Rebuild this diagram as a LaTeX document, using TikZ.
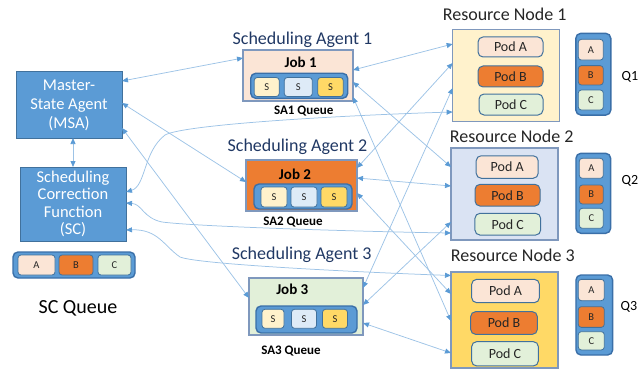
\documentclass[tikz,border=0pt]{standalone}
\usepackage{fontspec}
\setmainfont{Carlito}
\usetikzlibrary{arrows.meta}
\definecolor{msablue}{HTML}{5B9BD5}
\definecolor{msaborder}{HTML}{41719C}
\definecolor{qborder}{HTML}{3A6FA8}
\definecolor{cellborder}{HTML}{41719C}
\definecolor{peach}{HTML}{FBE5D6}
\definecolor{orangeB}{HTML}{ED7D31}
\definecolor{greenC}{HTML}{E2F0D9}
\definecolor{lightyellow}{HTML}{FFF2CC}
\definecolor{lightblueS}{HTML}{DEEBF7}
\definecolor{goldY}{HTML}{FFD966}
\definecolor{rnblue}{HTML}{DAE3F3}
\definecolor{boxframe}{HTML}{7F98BD}
\definecolor{navy}{HTML}{203864}
\definecolor{linkblue}{HTML}{9DC3E6}
\definecolor{tipblue}{HTML}{5B9BD5}
\definecolor{textdark}{HTML}{262626}
\tikzset{
  bluebox/.style={draw=msaborder, fill=msablue, line width=1pt, inner sep=0pt, outer sep=0pt,
    text=white, align=center, font=\fontsize{16.5}{19}\selectfont},
  jobbox/.style={draw=boxframe, line width=1.2pt, inner sep=0pt, outer sep=0pt},
  rnbox/.style={draw=boxframe, line width=1.2pt, inner sep=0pt, outer sep=0pt},
  qbox/.style={draw=qborder, fill=msablue, line width=1.4pt, rounded corners=5pt, inner sep=0pt, outer sep=0pt},
  cell/.style={draw=cellborder, line width=0.8pt, rounded corners=3pt, inner sep=0pt, outer sep=0pt,
    text=textdark, font=\fontsize{10.5}{12}\selectfont},
  pod/.style={draw=cellborder, line width=1pt, rounded corners=5pt, inner sep=0pt, outer sep=0pt,
    text=textdark, font=\fontsize{14}{16}\selectfont},
  satitle/.style={text=navy, inner sep=0pt, font=\fontsize{18}{20}\selectfont},
  rntitle/.style={text=textdark, inner sep=0pt, font=\fontsize{18}{20}\selectfont},
  jobname/.style={inner sep=0pt, text=black, font=\bfseries\fontsize{15}{17}\selectfont},
  qname/.style={inner sep=0pt, text=black, font=\bfseries\fontsize{13}{15}\selectfont},
  qlabel/.style={inner sep=0pt, text=black, font=\fontsize{14}{16}\selectfont},
  link/.style={draw=linkblue, line width=0.75pt, <->},
  >={Triangle[length=6pt,width=5pt,color=tipblue]}
}
\begin{document}
\begin{tikzpicture}[x=1pt,y=-1pt]
\useasboundingbox (0,0) rectangle (640,369);

% ---- left column
\node[bluebox, minimum width=106, minimum height=66] (msa) at (69,105) {Master-\\State Agent\\(MSA)};
\node[bluebox, minimum width=106, minimum height=74, font=\fontsize{16.5}{17.5}\selectfont] (sc) at (73,204) {Scheduling\\Correction\\Function\\(SC)};
\node[qbox, minimum width=122, minimum height=26] (scq) at (74,265) {};
\node[cell, fill=peach, minimum width=37, minimum height=20] (scqa) at (36.5,265) {A};
\node[cell, fill=orangeB, minimum width=34, minimum height=20] (scqb) at (76,265) {B};
\node[cell, fill=greenC, minimum width=33, minimum height=20] (scqc) at (114.5,265) {C};
\node[inner sep=0pt, font=\fontsize{20}{22}\selectfont] (scqlabel) at (78,308) {SC Queue};

% ---- Scheduling agent 1
\node[satitle] (sa1) at (302.5,40) {Scheduling Agent 1};
\node[jobbox, fill=peach, minimum width=110, minimum height=51] (job1) at (298,75.5) {};
\node[jobname] (job1t) at (300.7,62) {Job 1};
\node[qbox, minimum width=97, minimum height=25] (j1q) at (299.2,85.8) {};
\node[cell, fill=lightyellow, minimum width=25, minimum height=19] (j1s1) at (266.7,87) {S};
\node[cell, fill=lightblueS, minimum width=28, minimum height=19] (j1s2) at (298.3,87) {S};
\node[cell, fill=goldY, minimum width=25.5, minimum height=19] (j1s3) at (330.5,87) {S};
\node[qname] (sa1q) at (303.7,111) {SA1 Queue};

% ---- Scheduling agent 2
\node[satitle] (sa2) at (297.5,147) {Scheduling Agent 2};
\node[jobbox, fill=orangeB, minimum width=111, minimum height=51] (job2) at (301.5,185.5) {};
\node[jobname] (job2t) at (295,174) {Job 2};
\node[qbox, minimum width=98, minimum height=25] (j2q) at (303,196.5) {};
\node[cell, fill=lightyellow, minimum width=26, minimum height=20] (j2s1) at (274,197) {S};
\node[cell, fill=lightblueS, minimum width=26, minimum height=20] (j2s2) at (304,197) {S};
\node[cell, fill=goldY, minimum width=26, minimum height=20] (j2s3) at (334,197) {S};
\node[qname] (sa2q) at (293,222) {SA2 Queue};

% ---- Scheduling agent 3
\node[satitle] (sa3) at (301.7,255) {Scheduling Agent 3};
\node[jobbox, fill=greenC, minimum width=114, minimum height=57] (job3) at (306,306.5) {};
\node[jobname] (job3t) at (292.3,289) {Job 3};
\node[qbox, minimum width=101, minimum height=27] (j3q) at (306.5,319.5) {};
\node[cell, fill=lightyellow, minimum width=22, minimum height=19] (j3s1) at (273,318.8) {S};
\node[cell, fill=lightblueS, minimum width=25, minimum height=19] (j3s2) at (304,318.8) {S};
\node[cell, fill=goldY, minimum width=25, minimum height=19] (j3s3) at (335,318.8) {S};
\node[qname] (sa3q) at (291,351) {SA3 Queue};

% ---- Resource node 1
\node[rntitle] (rn1t) at (504.7,14) {Resource Node 1};
\node[rnbox, fill=lightyellow, minimum width=106.7, minimum height=92.3] (rn1) at (506,75.5) {};
\node[pod, fill=peach, minimum width=65, minimum height=20] (rn1a) at (510.5,47) {Pod A};
\node[pod, fill=orangeB, minimum width=65, minimum height=21] (rn1b) at (510.5,76.5) {Pod B};
\node[pod, fill=greenC, minimum width=64, minimum height=21] (rn1c) at (511,104.5) {Pod C};
\node[qbox, minimum width=35, minimum height=81.7] (q1) at (593.3,74.2) {};
\node[cell, fill=peach, minimum width=25, minimum height=20.7] (q1a) at (590.8,49.7) {A};
\node[cell, fill=orangeB, minimum width=25, minimum height=19.3] (q1b) at (590.8,75.3) {B};
\node[cell, fill=greenC, minimum width=25, minimum height=20] (q1c) at (590.8,100) {C};
\node[qlabel] (q1l) at (630,77) {Q1};

% ---- Resource node 2
\node[rntitle] (rn2t) at (511.7,136) {Resource Node 2};
\node[rnbox, fill=rnblue, minimum width=107, minimum height=92] (rn2) at (504.5,194) {};
\node[pod, fill=peach, minimum width=62, minimum height=22.5] (rn2a) at (507.2,167) {Pod A};
\node[pod, fill=orangeB, minimum width=65, minimum height=21.7] (rn2b) at (507.5,195.2) {Pod B};
\node[pod, fill=greenC, minimum width=65.7, minimum height=21.7] (rn2c) at (507.8,224.2) {Pod C};
\node[qbox, minimum width=34.7, minimum height=80] (q2) at (593.3,193.3) {};
\node[cell, fill=peach, minimum width=24, minimum height=20] (q2a) at (591.3,168.3) {A};
\node[cell, fill=orangeB, minimum width=24, minimum height=19] (q2b) at (591.3,194.5) {B};
\node[cell, fill=greenC, minimum width=24, minimum height=20] (q2c) at (591.3,218.3) {C};
\node[qlabel] (q2l) at (630,181) {Q2};

% ---- Resource node 3
\node[rntitle] (rn3t) at (512.8,255) {Resource Node 3};
\node[rnbox, fill=goldY, minimum width=107, minimum height=96] (rn3) at (504.5,320) {};
\node[pod, fill=peach, minimum width=67.7, minimum height=23.3] (rn3a) at (505.5,291) {Pod A};
\node[pod, fill=orangeB, minimum width=66.7, minimum height=22.7] (rn3b) at (504,323) {Pod B};
\node[pod, fill=greenC, minimum width=66.7, minimum height=24.3] (rn3c) at (505,353.8) {Pod C};
\node[qbox, minimum width=36.7, minimum height=80] (q3) at (594.3,315) {};
\node[cell, fill=peach, minimum width=26, minimum height=21.3] (q3a) at (591.3,290) {A};
\node[cell, fill=orangeB, minimum width=26, minimum height=20.7] (q3b) at (591.3,317) {B};
\node[cell, fill=greenC, minimum width=26, minimum height=18.3] (q3c) at (591.3,340.8) {C};
\node[qlabel] (q3l) at (629,307) {Q3};

% ---- connectors
\draw[link] (msa.south -| sc.north) -- (sc.north);
\draw[link] ([yshift=24]msa.east) -- ([yshift=17.5]job1.west);
\draw[link] ([yshift=2]msa.east) -- ([yshift=3.5]job2.west);
\draw[link] ([yshift=-23]msa.east) -- ([yshift=8.5]job3.west);

\draw[link] ([yshift=12]sc.east) .. controls (146,186) and (143,152) .. (165,135)
   .. controls (185,124) and (350,115) .. ([yshift=-36.5]rn1.west);
\draw[link] ([yshift=1]sc.east) .. controls (142,204) and (143,218) .. (162,222)
   .. controls (200,227) and (380,232) .. ([yshift=-39]rn2.west);
\draw[link] ([yshift=-26]sc.east) .. controls (158,229) and (164,246) .. (180,257)
   .. controls (200,265) and (380,273) .. ([yshift=44.5]rn3.west);

\draw[link] ([yshift=5.5]job1.east) -- ([yshift=31.5]rn1.west);
\draw[link] ([yshift=-6.5]job1.east) -- ([yshift=27]rn2.west);
\draw[link] ([yshift=-21.5]job1.east) -- ([yshift=-1]rn3.west);
\draw[link] ([yshift=17.5]job2.east) -- ([yshift=12.5]rn1.west);
\draw[link] ([yshift=7.5]job2.east) -- ([yshift=8]rn2.west);
\draw[link] ([yshift=-7.5]job2.east) -- ([yshift=26]rn3.west);
\draw[link] ([yshift=18.5]job3.east) -- ([yshift=-12.5]rn1.west);
\draw[link] ([yshift=1.5]job3.east) -- ([yshift=-28]rn2.west);
\draw[link] ([yshift=-16.5]job3.east) -- ([yshift=-33]rn3.west);
\end{tikzpicture}
\end{document}
